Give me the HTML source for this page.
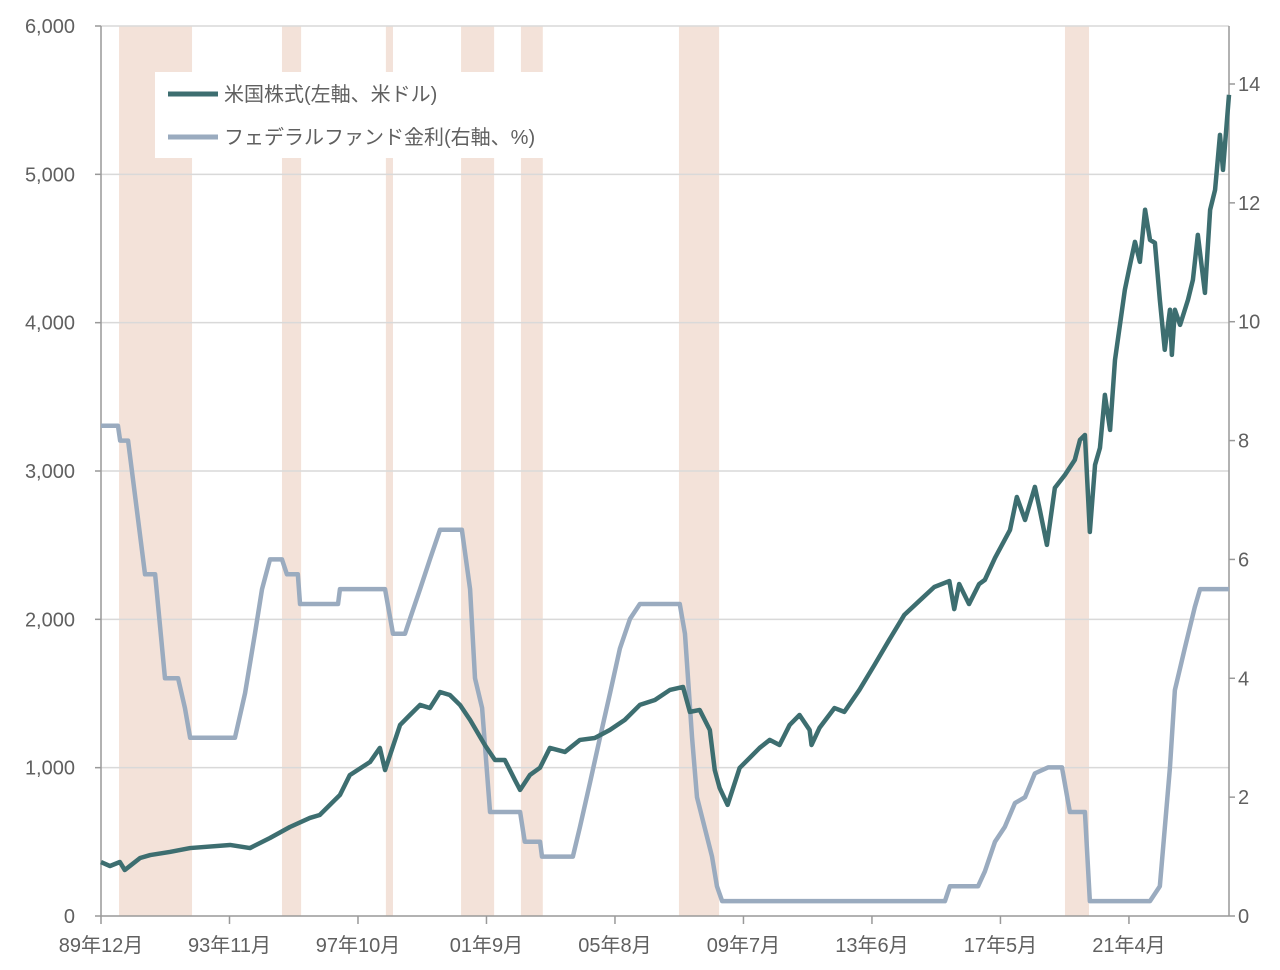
<!DOCTYPE html>
<html><head><meta charset="utf-8"><style>
html,body{margin:0;padding:0;background:#fff;}
svg text{font-family:"Liberation Sans","Noto Sans CJK JP",sans-serif;fill:#606060;font-size:20px;}
</style></head><body>
<svg id="chart" width="1280" height="965" viewBox="0 0 1280 965" xmlns="http://www.w3.org/2000/svg">
<g id="bands"></g><g id="grid"></g><g id="axes"></g><g id="lines"></g><g id="legend"></g>
</svg>
<script>
// recession bands (month offsets from 1989-12)
const bandStart=[6.6,66.2,104.2,131.7,153.6,211.4,352.6];
const bandEnd=[33.3,73.2,106.8,143.8,161.6,226.1,361.4];
// x tick labels
const xTickMonths=[0,47,94,141,188,235,282,329,376];
const xTickLabels=["89年12月","93年11月","97年10月","01年9月","05年8月","09年7月","13年6月","17年5月","21年4月"];
const leftTicks=[0,1000,2000,3000,4000,5000,6000];
const leftTickLabels=["0","1,000","2,000","3,000","4,000","5,000","6,000"];
const rightTicks=[0,2,4,6,8,10,12,14];
// Fed funds rate
const fedMonths=[0,6.2,7,9.9,16.1,19.8,23.4,28.2,30.7,32.6,49,52.7,56.3,58.9,61.8,66.2,68,72,72.8,86.7,87.4,103.9,106.8,111.2,113,116.7,120.3,124,132,135,136.8,139.4,142.3,153.3,155,160.6,161.3,172.6,175.2,178.9,182.5,186.2,189.8,193.5,197.1,211.7,213.6,216.2,218,223.5,225.3,227.2,308.7,310.5,320.8,323.3,327,330.6,334.3,338,341.6,346.4,351.5,354.4,359.9,361.7,383.7,387.3,391,392.8,396.4,400.1,402,412.6];
const fedValues=[8.25,8.25,8.0,8.0,5.75,5.75,4.0,4.0,3.5,3.0,3.0,3.75,4.75,5.5,6.0,6.0,5.75,5.75,5.25,5.25,5.5,5.5,4.75,4.75,5.0,5.5,6.0,6.5,6.5,5.5,4.0,3.5,1.75,1.75,1.25,1.25,1.0,1.0,1.5,2.25,3.0,3.75,4.5,5.0,5.25,5.25,4.75,3.0,2.0,1.0,0.5,0.25,0.25,0.5,0.5,0.75,1.25,1.5,1.9,2.0,2.4,2.5,2.5,1.75,1.75,0.25,0.25,0.5,2.5,3.8,4.5,5.2,5.5,5.5];
// US stocks
const stockMonths=[0,3.3,6.9,8.7,14.3,18,25.2,32.6,47.2,54.5,61.8,69.1,76.4,80,87.4,91,98.4,102,103.9,109.4,113,116.7,120.3,124,127.6,131.3,135,140.4,144.1,147.7,151.4,153.3,156.9,160.6,164.2,169.7,175.2,180.6,186.1,191.6,197.1,202.6,208.1,212.9,215.4,219,222.7,224.5,226.3,229.2,233.6,240.9,244.6,248.2,251.9,255.5,259.2,259.9,262.8,268.3,271.9,277.4,282.9,288.3,293.8,299.3,304.8,310.3,312.1,313.9,317.5,321.2,323.3,327,332.5,335,338,341.6,343.4,346,348.9,352.6,356.2,358.1,359.9,361.7,363.6,365.4,367.2,369.1,370.9,374.5,376.4,378.2,380,381.9,383.7,385.5,387.3,389.1,391,391.7,392.8,394.7,397.6,399.4,401.2,403.8,405.7,407.5,409.3,410.4,412.6];
const stockValues=[364,337,364,310,391,411,432,458,479,458,526,600,661,681,816,950,1038,1133,984,1288,1355,1423,1402,1510,1490,1423,1322,1153,1052,1052,917,850,951,1000,1133,1106,1187,1200,1254,1322,1423,1456,1524,1544,1376,1389,1254,984,863,749,998,1133,1187,1153,1288,1355,1254,1153,1268,1402,1376,1524,1692,1861,2029,2124,2218,2258,2069,2238,2103,2238,2266,2414,2603,2825,2670,2893,2738,2502,2886,2974,3075,3210,3243,2589,3041,3156,3513,3277,3749,4221,4390,4545,4410,4761,4558,4538,4154,3817,4087,3783,4087,3985,4154,4289,4592,4201,4761,4895,5266,5030,5536];

const X0=101,X1=1229,Y0=916,Y1=26,MMAX=412.6;
const xS=m=>X0+m*(X1-X0)/MMAX;
const yL=v=>Y0-v*(Y0-Y1)/6000;
const yR=v=>Y0-v*(Y0-84)/14;
const NS="http://www.w3.org/2000/svg";
function mk(tag,attrs,parent){const e=document.createElementNS(NS,tag);for(const k in attrs)e.setAttribute(k,attrs[k]);document.getElementById(parent).appendChild(e);return e;}

bandStart.forEach((s,i)=>{
 const r=mk('rect',{x:xS(s),y:Y1,width:xS(bandEnd[i])-xS(s),height:Y0-Y1,fill:'#f3e2d9'},'bands');
 
 
});
leftTicks.forEach((v,i)=>{
 if(v>0){const g=mk('line',{x1:X0,x2:X1,y1:yL(v),y2:yL(v),stroke:'#d9d9d9','stroke-width':1.5},'grid');
 
 }
 const t=mk('text',{x:75,y:yL(v)+7,'text-anchor':'end'},'axes');t.textContent=leftTickLabels[i];
 
 
 mk('line',{x1:X0-6,x2:X0,y1:yL(v),y2:yL(v),stroke:'#999','stroke-width':1.5},'axes');
});
rightTicks.forEach(v=>{
 const t=mk('text',{x:1238,y:yR(v)+7},'axes');t.textContent=String(v);
 
 
 mk('line',{x1:X1,x2:X1+6,y1:yR(v),y2:yR(v),stroke:'#999','stroke-width':1.5},'axes');
});
xTickMonths.forEach((m,i)=>{
 const t=mk('text',{x:xS(m),y:952,'text-anchor':'middle'},'axes');t.textContent=xTickLabels[i];
 
 
 mk('line',{x1:xS(m),x2:xS(m),y1:Y0,y2:Y0+8,stroke:'#999','stroke-width':1.5},'axes');
});
mk('line',{x1:X0,x2:X0,y1:Y1,y2:Y0,stroke:'#999','stroke-width':1.5},'axes');
mk('line',{x1:X1,x2:X1,y1:Y1,y2:Y0,stroke:'#999','stroke-width':1.5},'axes');
mk('line',{x1:X0,x2:X1,y1:Y0,y2:Y0,stroke:'#999','stroke-width':1.5},'axes');

const fp=mk('polyline',{points:fedMonths.map((m,i)=>xS(m)+','+yR(fedValues[i])).join(' '),fill:'none',stroke:'#9aabbf','stroke-width':4.5,'stroke-linejoin':'round'},'lines');


const sp=mk('polyline',{points:stockMonths.map((m,i)=>xS(m)+','+yL(stockValues[i])).join(' '),fill:'none',stroke:'#3d6e70','stroke-width':4.5,'stroke-linejoin':'round'},'lines');



const lb=mk('rect',{x:155,y:72,width:393,height:86,fill:'#fff'},'legend');


mk('line',{x1:168,x2:218,y1:94,y2:94,stroke:'#3d6e70','stroke-width':5},'legend');
const l1=mk('text',{x:224,y:101},'legend');l1.textContent='米国株式(左軸、米ドル)';


mk('line',{x1:168,x2:218,y1:137,y2:137,stroke:'#9aabbf','stroke-width':5},'legend');
const l2=mk('text',{x:224,y:144},'legend');l2.textContent='フェデラルファンド金利(右軸、%)';


</script>
</body></html>
